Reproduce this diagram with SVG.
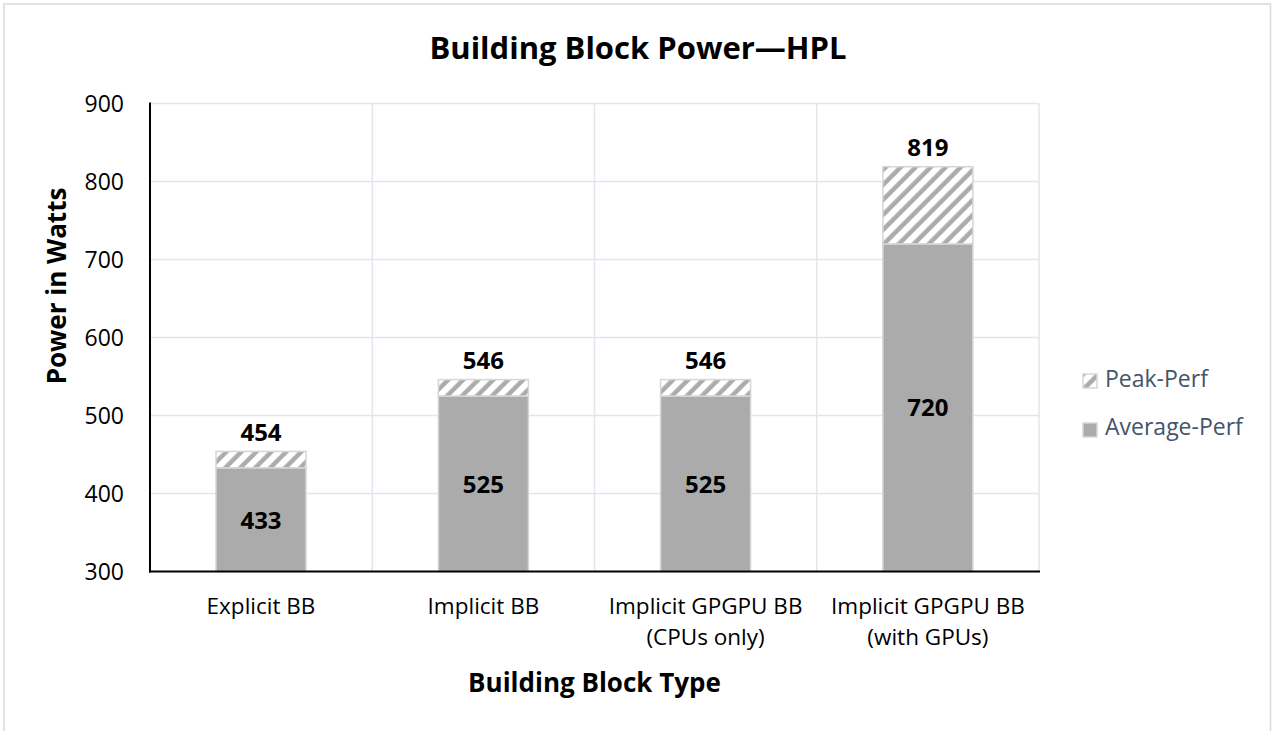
<svg xmlns="http://www.w3.org/2000/svg" width="1274" height="731" viewBox="0 0 1274 731">
<style>
.grid{stroke:#e1e6ee;stroke-width:1.5;fill:none}
.axis{stroke:#000;stroke-width:2;fill:none}
.tick{font-family:"Open Sans",sans-serif;font-size:23px;fill:#000;text-anchor:end}
.cat{font-family:"Open Sans",sans-serif;font-size:22.5px;fill:#000;text-anchor:middle}
.val{font-family:"Open Sans",sans-serif;font-size:24px;font-weight:bold;fill:#000;text-anchor:middle}
.ttl{font-family:"Open Sans",sans-serif;font-weight:bold;fill:#000;text-anchor:middle}
.leg{font-family:"Open Sans",sans-serif;font-size:23px;fill:#44546a}
.avg{fill:#ababab;stroke:#d6d6d6;stroke-width:1.5}
.peak{fill:url(#hatch);stroke:#d6d6d6;stroke-width:1.5}
</style>
<defs>
<pattern id="hatch" patternUnits="userSpaceOnUse" width="10.6" height="10.6" patternTransform="rotate(45)">
<rect width="10.6" height="10.6" fill="#fff"/>
<line x1="2.5" y1="0" x2="2.5" y2="10.6" stroke="#ababab" stroke-width="4.5"/>
</pattern>
</defs>
<rect x="0" y="0" width="1274" height="731" fill="#fff"/>
<rect x="4" y="4" width="1266.5" height="780" fill="#fff" stroke="#d9d9d9" stroke-width="1.5"/>
<text class="ttl" x="638" y="59" font-size="31">Building Block Power—HPL</text>
<g id="gridlines">
<line class="grid" x1="150" y1="103.5" x2="1039" y2="103.5"/>
<line class="grid" x1="150" y1="181.5" x2="1039" y2="181.5"/>
<line class="grid" x1="150" y1="259.5" x2="1039" y2="259.5"/>
<line class="grid" x1="150" y1="337.5" x2="1039" y2="337.5"/>
<line class="grid" x1="150" y1="415.5" x2="1039" y2="415.5"/>
<line class="grid" x1="150" y1="493.5" x2="1039" y2="493.5"/>
<line class="grid" x1="372.3" y1="103.5" x2="372.3" y2="571.5"/>
<line class="grid" x1="594.5" y1="103.5" x2="594.5" y2="571.5"/>
<line class="grid" x1="816.8" y1="103.5" x2="816.8" y2="571.5"/>
<line class="grid" x1="1039" y1="103.5" x2="1039" y2="571.5"/>
</g>
<g id="ticks">
<text class="tick" x="124" y="111.5">900</text>
<text class="tick" x="124" y="189.5">800</text>
<text class="tick" x="124" y="267.5">700</text>
<text class="tick" x="124" y="345.5">600</text>
<text class="tick" x="124" y="423.5">500</text>
<text class="tick" x="124" y="501.5">400</text>
<text class="tick" x="124" y="579.5">300</text>
</g>
<g id="bar-explicit">
<rect class="avg" x="216" y="467.8" width="90" height="103.7"/>
<rect class="peak" x="216" y="451.4" width="90" height="16.4"/>
<text class="val" x="261" y="441">454</text>
<text class="val" x="261" y="529">433</text>
</g>
<g id="bar-implicit">
<rect class="avg" x="438.4" y="396" width="90" height="175.5"/>
<rect class="peak" x="438.4" y="379.6" width="90" height="16.4"/>
<text class="val" x="483.4" y="369">546</text>
<text class="val" x="483.4" y="493">525</text>
</g>
<g id="bar-gpgpu-cpu">
<rect class="avg" x="660.6" y="396" width="90" height="175.5"/>
<rect class="peak" x="660.6" y="379.6" width="90" height="16.4"/>
<text class="val" x="705.6" y="369">546</text>
<text class="val" x="705.6" y="493">525</text>
</g>
<g id="bar-gpgpu-gpu">
<rect class="avg" x="882.9" y="243.9" width="90" height="327.6"/>
<rect class="peak" x="882.9" y="166.7" width="90" height="77.2"/>
<text class="val" x="927.9" y="156">819</text>
<text class="val" x="927.9" y="416">720</text>
</g>
<g id="axes">
<line class="axis" x1="150" y1="102.5" x2="150" y2="572.5"/>
<line class="axis" x1="149" y1="571.5" x2="1040" y2="571.5"/>
</g>
<g id="categories">
<text class="cat" x="261" y="614">Explicit BB</text>
<text class="cat" x="483.4" y="614">Implicit BB</text>
<text class="cat" x="705.6" y="614">Implicit GPGPU BB</text>
<text class="cat" x="705.6" y="645">(CPUs only)</text>
<text class="cat" x="927.9" y="614">Implicit GPGPU BB</text>
<text class="cat" x="927.9" y="645">(with GPUs)</text>
</g>
<text class="ttl" x="594.5" y="692" font-size="26">Building Block Type</text>
<text class="ttl" font-size="26" transform="translate(66,286) rotate(-90)">Power in Watts</text>
<g id="legend">
<rect class="peak" x="1083" y="374" width="14" height="14" stroke-width="1"/>
<text class="leg" x="1105" y="387">Peak-Perf</text>
<rect class="avg" x="1083" y="423" width="14" height="14" stroke-width="1"/>
<text class="leg" x="1105" y="435">Average-Perf</text>
</g>
</svg>
